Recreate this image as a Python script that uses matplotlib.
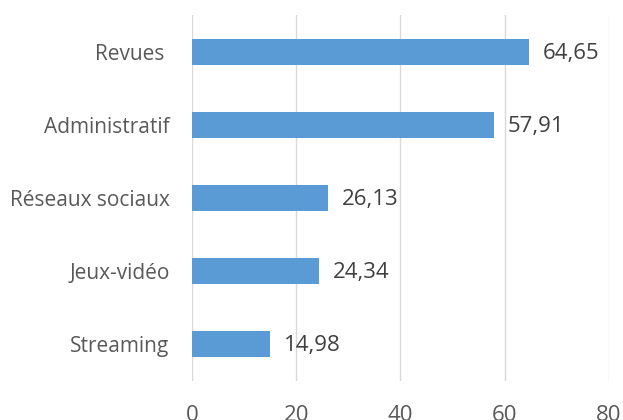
import matplotlib
matplotlib.use("Agg")
import matplotlib.pyplot as plt

categories = ["Revues ", "Administratif", "Réseaux sociaux", "Jeux-vidéo", "Streaming"]
values = [64.65, 57.91, 26.13, 24.34, 14.98]
xticks = [0, 20, 40, 60, 80]

plt.rcParams['font.family'] = ['Open Sans', 'DejaVu Sans']

fig = plt.figure(figsize=(6.23, 4.2), dpi=100)
ax = fig.add_axes([0.308, 0.093, 0.6695, 0.871])

ypos = list(range(len(categories)))
ax.barh(ypos, values, height=0.355, color="#5B9BD5", zorder=3)
ax.set_ylim(len(categories) - 0.5, -0.5)
ax.set_xlim(0, 80)
ax.set_xticks(xticks)
ax.set_xticklabels([str(t) for t in xticks])
ax.set_yticks(ypos)
ax.set_yticklabels(categories)

for y, v in zip(ypos, values):
    ax.annotate(f"{v:.2f}".replace(".", ","), (v, y), xytext=(10, -1),
                textcoords="offset points", va="center", ha="left",
                fontsize=16, color="#404040")

ax.grid(axis="x", color="#D9D9D9", linewidth=1, zorder=0)
for s in ax.spines.values():
    s.set_visible(False)
ax.tick_params(axis="both", length=0, colors="#595959")
ax.tick_params(axis="y", pad=16, labelsize=15)
ax.tick_params(axis="x", pad=17, labelsize=16)

fig.savefig("out.png", dpi=100)
